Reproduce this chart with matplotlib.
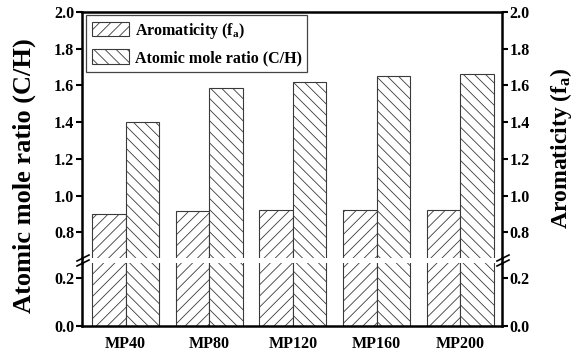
import matplotlib
matplotlib.use('Agg')
import matplotlib.pyplot as plt
import numpy as np
from matplotlib.lines import Line2D
from matplotlib.ticker import FormatStrFormatter

samples = ['MP40', 'MP80', 'MP120', 'MP160', 'MP200']
aromaticity = [0.90, 0.916, 0.924, 0.924, 0.924]
ch_ratio = [1.40, 1.584, 1.62, 1.651, 1.662]
upper_ticks = [0.8, 1.0, 1.2, 1.4, 1.6, 1.8, 2.0]
lower_ticks = [0.0, 0.2]

plt.rcParams['font.family'] = ['Liberation Serif', 'DejaVu Serif']
plt.rcParams['font.weight'] = 'bold'
plt.rcParams['mathtext.fontset'] = 'custom'
plt.rcParams['mathtext.rm'] = 'Liberation Serif:bold'
plt.rcParams['mathtext.it'] = 'Liberation Serif:bold'
plt.rcParams['mathtext.bf'] = 'Liberation Serif:bold'
plt.rcParams['hatch.linewidth'] = 0.6

W, H = 576, 354
fig = plt.figure(figsize=(5.76, 3.54), dpi=100)
L, R = 82, 502
TOP, GAP0, GAP1, BOT = 12, 258, 263, 326


def fx(px):
    return px / W


def fy(py):
    return 1 - py / H


ax_top = fig.add_axes([fx(L), fy(GAP0), (R - L) / W, (GAP0 - TOP) / H])
ax_bot = fig.add_axes([fx(L), fy(BOT), (R - L) / W, (BOT - GAP1) / H])

x = np.arange(len(samples))
w = 0.4
ec = '#3a3a3a'
for ax in (ax_top, ax_bot):
    ax.bar(x - w / 2, aromaticity, w, facecolor='white', edgecolor=ec,
           hatch='///', linewidth=0.8, label=r'Aromaticity (f$_{\mathrm{a}}$)')
    ax.bar(x + w / 2, ch_ratio, w, facecolor='white', edgecolor=ec,
           hatch='\\\\\\', linewidth=0.8, label='Atomic mole ratio (C/H)')
    ax.set_xlim(-0.52, 4.5)
    ax.tick_params(axis='y', direction='out', length=4, width=1.5,
                   left=True, right=True, labelleft=True, labelright=True,
                   labelsize=11.5, pad=1.5)
    ax.yaxis.set_major_formatter(FormatStrFormatter('%.1f'))
    for s in ax.spines.values():
        s.set_linewidth(1.8)

ax_top.set_ylim(0.66, 2.0)
ax_top.set_yticks(upper_ticks)
ax_bot.set_ylim(0, 0.26)
ax_bot.set_yticks(lower_ticks)
ax_top.spines['bottom'].set_visible(False)
ax_top.tick_params(axis='x', bottom=False, labelbottom=False)
ax_bot.spines['top'].set_visible(False)
ax_bot.set_xticks(x)
ax_bot.set_xticklabels(samples, fontsize=11.5)
ax_bot.tick_params(axis='x', length=0, pad=7)

# continuous spines across gap and break marks
for px in (L, R):
    fig.add_artist(Line2D([fx(px), fx(px)], [fy(GAP0), fy(GAP1)],
                          color='black', lw=1.8, transform=fig.transFigure))
    yc = (GAP0 + GAP1) / 2
    for d in (-2.5, 2.5):
        fig.add_artist(Line2D([fx(px - 5), fx(px + 7)],
                              [fy(yc + d + 3), fy(yc + d - 3)],
                              color='black', lw=1.2, transform=fig.transFigure))

leg = ax_top.legend(loc='upper left', bbox_to_anchor=(0.0095, 0.988),
                    borderaxespad=0, fontsize=11.5, handlelength=2.35,
                    handleheight=1.0, labelspacing=0.55, borderpad=0.35,
                    handletextpad=0.35, fancybox=False, framealpha=1)
leg.get_frame().set_edgecolor('#444444')
leg.get_frame().set_linewidth(0.9)

fig.text(fx(24), fy(176), 'Atomic mole ratio (C/H)', rotation=90,
         ha='center', va='center', fontsize=19)
fig.text(fx(561), fy(148), r'Aromaticity (f$_{\mathrm{a}}$)', rotation=90,
         ha='center', va='center', fontsize=17)

fig.savefig('out.png', dpi=100)
